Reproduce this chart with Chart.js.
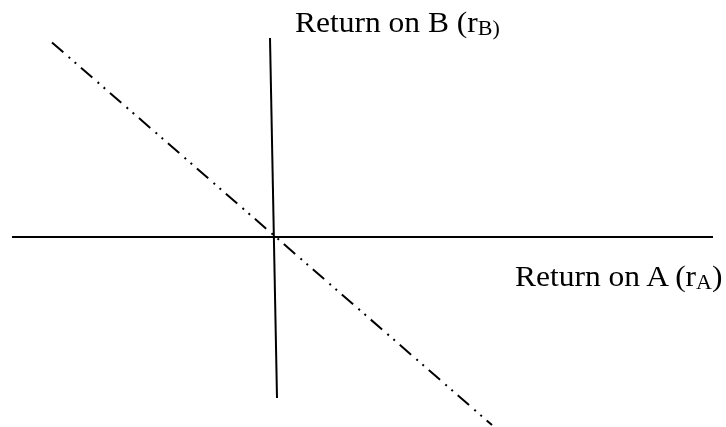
<!DOCTYPE html>
<html>
<head>
<meta charset="utf-8">
<script src="https://cdn.jsdelivr.net/npm/chart.js@4"></script>
<style>
  html, body { margin: 0; padding: 0; background: #fff; }
  #wrap { position: relative; width: 726px; height: 427px; overflow: hidden; }
  canvas { position: absolute; left: 0; top: 0; }
  .lbl { position: absolute; font-family: "Liberation Serif", "Times New Roman", serif; font-size: 30px; color: #000; white-space: nowrap; line-height: 1; transform: scaleX(1.05); transform-origin: left top; }
  .lbl .s { font-size: 21px; position: relative; top: 3px; }
</style>
</head>
<body>
<div id="wrap">
  <canvas id="c" width="726" height="427"></canvas>
  <div class="lbl" id="lb" style="left:295px; top:7px;">Return on B (r<span class="s">B)</span></div>
  <div class="lbl" id="la" style="left:515px; top:261px;">Return on A (r<span class="s">A</span>)</div>
</div>
<script>
// Axis lines and the correlation line, in return units (origin at the crossing)
const axisAX = [-26.1, 44.0];
const axisAY = [0, 0];
const axisBX = [-0.3, 0.4];
const axisBY = [19.9, -16.1];
const corrX = [-22.1, 21.9];
const corrY = [19.45, -18.8];

function pts(xs, ys) { return xs.map((x, i) => ({ x: x, y: ys[i] })); }

new Chart(document.getElementById('c'), {
  type: 'scatter',
  data: {
    datasets: [
      { data: pts(axisAX, axisAY), showLine: true, borderColor: '#000', borderWidth: 2, pointRadius: 0 },
      { data: pts(axisBX, axisBY), showLine: true, borderColor: '#000', borderWidth: 2, pointRadius: 0 },
      { data: pts(corrX, corrY), showLine: true, borderColor: '#000', borderWidth: 2, pointRadius: 0,
        borderDash: [15, 7, 2, 6, 2, 6.4] }
    ]
  },
  options: {
    responsive: false,
    animation: false,
    events: [],
    layout: { padding: 0 },
    plugins: { legend: { display: false }, tooltip: { enabled: false } },
    scales: {
      x: { type: 'linear', min: -27.3, max: 45.3, display: false },
      y: { type: 'linear', min: -19.0, max: 23.7, display: false }
    }
  }
});
</script>
</body>
</html>
